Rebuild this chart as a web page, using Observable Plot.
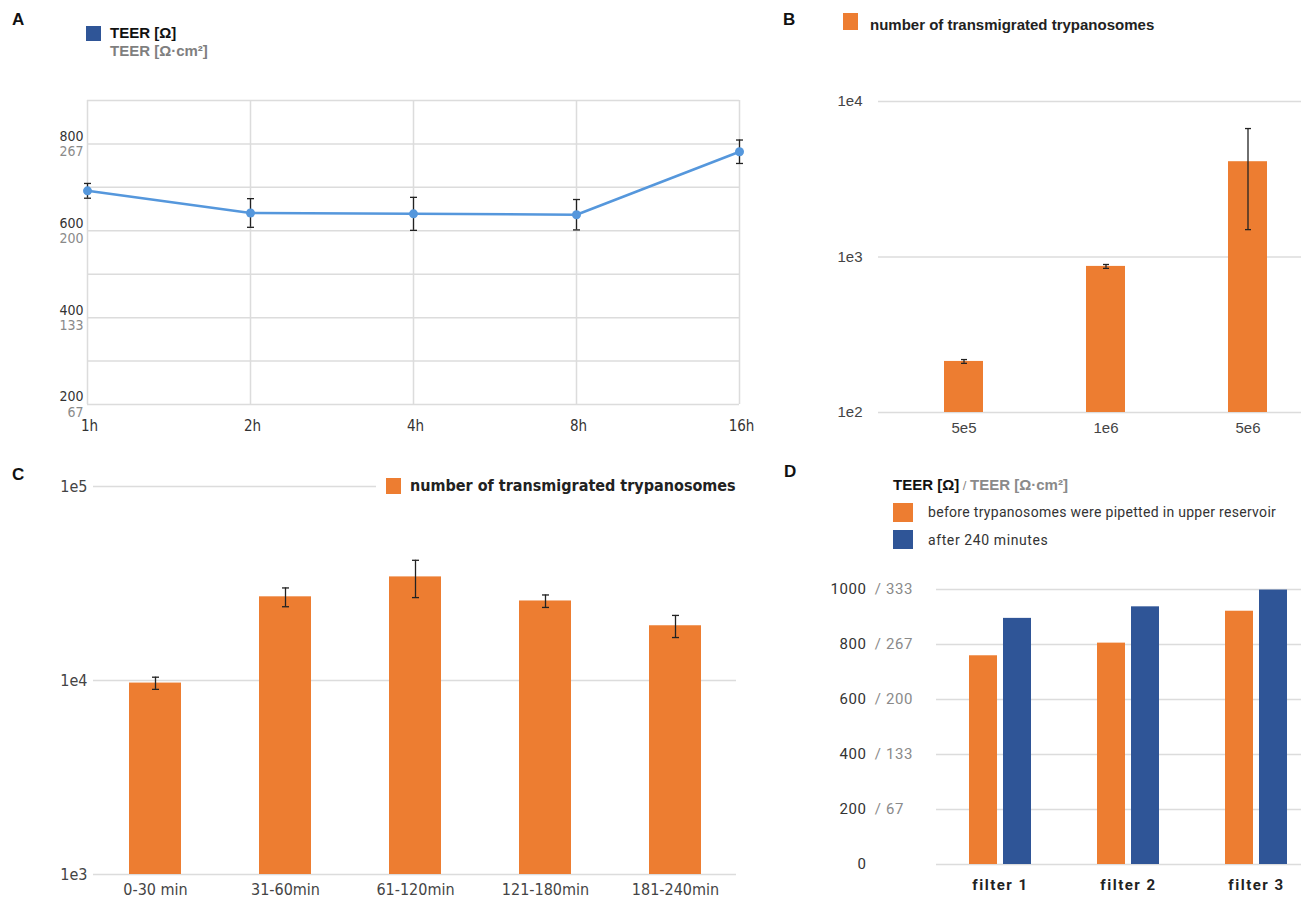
<!DOCTYPE html>
<html>
<head>
<meta charset="utf-8">
<script src="https://cdn.jsdelivr.net/npm/d3@7"></script>
<script src="https://cdn.jsdelivr.net/npm/@observablehq/plot@0.6"></script>
<style>
  html, body { margin: 0; padding: 0; background: #fff; }
  #fig { position: relative; width: 1301px; height: 903px; overflow: hidden; background: #fff;
         font-family: "Liberation Sans", Arial, sans-serif; color: #222; }
  .abs { position: absolute; white-space: nowrap; }
  .letter { font-weight: bold; font-size: 17px; line-height: 20px; color: #111; }
  .sw { position: absolute; }
  .narrow { font-family: "Liberation Sans Narrow", "DejaVu Sans Condensed", "Roboto", sans-serif; font-stretch: condensed; }
  .d-panel g[aria-label="fx-axis tick label"] text { letter-spacing: 1.5px; }
  .d-panel g[aria-label="y-axis tick label"] text { letter-spacing: 0.6px; }
</style>
</head>
<body>
<div id="fig"></div>
<script>
// ---- TEER time course (mean ± SD, Ω) ----
const timepoints = ["1h", "2h", "4h", "8h", "16h"];
const teerMean = [692, 641, 639, 637, 782];
const teerSd = [17, 33, 38, 35, 27];

// ---- transmigration vs. inoculum ----
const inocula = ["5e5", "1e6", "5e6"];
const inoculumCounts = [213, 870, 4100];
const inoculumSd = [6, 25, 2600];

// ---- transmigration per time interval ----
const intervals = ["0-30 min", "31-60min", "61-120min", "121-180min", "181-240min"];
const intervalCounts = [9700, 27000, 34200, 25700, 19150];
const intervalSd = [700, 3000, 7450, 1900, 2500];

// ---- TEER per filter before / after the assay (Ω) ----
const filters = ["filter 1", "filter 2", "filter 3"];
const teerBefore = [759, 805, 921];
const teerAfter = [895, 937, 998];

// filter area in cm², converts Ω to Ω·cm²
const membraneArea = 1 / 3;

const orange = "#ed7d31";
const navy = "#2f5597";
const lineBlue = "#5597dc";
const gridGrey = "#dcdcdc";
const narrowFont = '"Liberation Sans Narrow", "DejaVu Sans Condensed", Roboto, sans-serif';

// horizontal whisker cap used for error bars
const capSymbol = {
  draw(ctx, size) {
    const r = Math.sqrt(size / Math.PI);
    ctx.moveTo(-r, 0);
    ctx.lineTo(r, 0);
  }
};

const fig = document.getElementById("fig");
function place(el, left, top, cls) {
  el.style.position = "absolute";
  el.style.left = left + "px";
  el.style.top = top + "px";
  if (cls) el.classList.add(cls);
  fig.appendChild(el);
}
function html(str, left, top) {
  const d = document.createElement("div");
  d.className = "abs";
  d.innerHTML = str;
  d.style.left = left + "px";
  d.style.top = top + "px";
  fig.appendChild(d);
  return d;
}
function errorMarks(rows, x, capR) {
  return [
    Plot.ruleX(rows, {x, y1: "lo", y2: "hi", stroke: "#222", strokeWidth: 1.3}),
    Plot.dot(rows, {x, y: "lo", symbol: capSymbol, r: capR, stroke: "#222", strokeWidth: 1.3}),
    Plot.dot(rows, {x, y: "hi", symbol: capSymbol, r: capR, stroke: "#222", strokeWidth: 1.3})
  ];
}

// ===== A: TEER over time =====
const teerRows = timepoints.map((t, i) => ({t, v: teerMean[i], lo: teerMean[i] - teerSd[i], hi: teerMean[i] + teerSd[i]}));
const teerTicks = [200, 400, 600, 800];
const plotA = Plot.plot({
  width: 780, height: 370,
  marginLeft: 87, marginRight: 41, marginTop: 20, marginBottom: 46,
  style: {fontFamily: narrowFont, fontSize: "15px", background: "transparent", overflow: "visible"},
  x: {type: "point", domain: timepoints, padding: 0, axis: null},
  y: {domain: [200, 900], axis: null},
  marks: [
    Plot.ruleY(d3.range(200, 901, 100), {stroke: gridGrey, strokeWidth: 1.5}),
    Plot.ruleX(timepoints, {x: d => d, stroke: gridGrey, strokeWidth: 1.5}),
    Plot.text(teerTicks, {y: d => d, text: d => String(d), frameAnchor: "left", textAnchor: "end", dx: -4, dy: -7.5, fontSize: 14, fill: "#333"}),
    Plot.text(teerTicks, {y: d => d, text: d => String(Math.round(d * membraneArea)), frameAnchor: "left", textAnchor: "end", dx: -4, dy: 8, fontSize: 14, fill: "#8a8a8a"}),
    Plot.text(timepoints, {x: d => d, text: d => d, frameAnchor: "bottom", dx: 2, dy: 26, fill: "#333"}),
    ...errorMarks(teerRows, "t", 3.5),
    Plot.line(teerRows, {x: "t", y: "v", stroke: lineBlue, strokeWidth: 2.5}),
    Plot.dot(teerRows, {x: "t", y: "v", r: 4.5, fill: lineBlue})
  ]
});
place(plotA, 0, 80);

// ===== B: transmigrated parasites vs. inoculum =====
const rowsB = inocula.map((c, i) => ({c, v: inoculumCounts[i], lo: inoculumCounts[i] - inoculumSd[i], hi: inoculumCounts[i] + inoculumSd[i]}));
const decadesB = [100, 1000, 10000];
const plotB = Plot.plot({
  width: 521, height: 450,
  marginLeft: 98, marginRight: 0, marginTop: 101, marginBottom: 38,
  style: {fontFamily: '"Liberation Sans", Arial, sans-serif', fontSize: "15px", background: "transparent", overflow: "visible"},
  x: {type: "band", domain: inocula, paddingInner: 0.726, paddingOuter: 0.347, align: 0.66, axis: null},
  y: {type: "log", domain: [100, 10000], axis: null},
  marks: [
    Plot.ruleY(decadesB, {stroke: gridGrey, strokeWidth: 1.5}),
    Plot.barY(rowsB, {x: "c", y1: 100, y2: "v", fill: orange}),
    ...errorMarks(rowsB, "c", 3),
    Plot.text(decadesB, {y: d => d, text: d => "1e" + Math.round(Math.log10(d)), frameAnchor: "left", textAnchor: "end", dx: -16, fill: "#444"}),
    Plot.text(inocula, {x: d => d, text: d => d, frameAnchor: "bottom", dy: 20, fill: "#444"})
  ]
});
place(plotB, 780, 0);

// ===== C: transmigrated parasites per interval =====
const rowsC = intervals.map((c, i) => ({c, v: intervalCounts[i], lo: intervalCounts[i] - intervalSd[i], hi: intervalCounts[i] + intervalSd[i]}));
const decadesC = [1000, 10000, 100000];
const plotC = Plot.plot({
  width: 780, height: 453,
  marginLeft: 93, marginRight: 44, marginTop: 36, marginBottom: 29,
  style: {fontFamily: narrowFont, fontSize: "16px", background: "transparent", overflow: "visible"},
  x: {type: "band", domain: intervals, paddingInner: 0.6, paddingOuter: 0.273, axis: null},
  y: {type: "log", domain: [1000, 100000], axis: null},
  marks: [
    Plot.ruleY(decadesC, {stroke: gridGrey, strokeWidth: 1.5}),
    Plot.barY(rowsC, {x: "c", y1: 1000, y2: "v", fill: orange}),
    ...errorMarks(rowsC, "c", 3.5),
    Plot.text(decadesC, {y: d => d, text: d => "1e" + Math.round(Math.log10(d)), frameAnchor: "left", textAnchor: "end", dx: -6, fill: "#444"}),
    Plot.text(intervals, {x: d => d, text: d => d, frameAnchor: "bottom", dy: 20, fill: "#444"})
  ]
});
place(plotC, 0, 450);

// ===== D: TEER per filter, before and after =====
const phases = ["before", "after"];
const rowsD = filters.flatMap((f, i) => [
  {f, s: "before", v: teerBefore[i]},
  {f, s: "after", v: teerAfter[i]}
]);
const teerTicksD = d3.range(0, 1001, 200);
const plotD = Plot.plot({
  width: 540, height: 453,
  marginLeft: 155, marginRight: 0, marginTop: 139, marginBottom: 39,
  className: "d-panel",
  style: {fontFamily: 'Roboto, "Liberation Sans", sans-serif', fontSize: "15px", background: "transparent", overflow: "visible"},
  fx: {domain: filters, paddingInner: 0, paddingOuter: 0, axis: null, label: null},
  x: {domain: phases, paddingInner: 0.17, paddingOuter: 0.918, axis: null},
  y: {domain: [0, 1000], axis: null, label: null},
  color: {domain: phases, range: [orange, navy]},
  marks: [
    Plot.ruleY(teerTicksD, {stroke: gridGrey, strokeWidth: 1.5}),
    Plot.barY(rowsD, {fx: "f", x: "s", y: "v", fill: "s"}),
    Plot.axisY({ticks: teerTicksD, tickSize: 0, label: null, tickFormat: d => String(d), textAnchor: "end", dx: -61, fill: "#333"}),
    Plot.axisY({ticks: teerTicksD, tickSize: 0, label: null, tickFormat: d => d ? " / " + Math.round(d * membraneArea) : "", textAnchor: "start", dx: -57, fill: "#8a8a8a"}),
    Plot.axisFx({anchor: "bottom", tickSize: 0, tickPadding: 15, label: null, fontWeight: "bold", fontSize: 15, fill: "#222"})
  ]
});
place(plotD, 780, 450);

// ===== legends and panel letters =====
html('<span class="letter">A</span>', 12, 10);
html('<span class="letter">B</span>', 783, 10);
html('<span class="letter">C</span>', 12, 465);
html('<span class="letter">D</span>', 784, 462);

// A legend
html(`<div class="sw" style="left:0;top:0;width:15px;height:15px;background:${navy}"></div>`, 86, 26);
html('<span style="font-weight:bold;font-size:15px;line-height:18px;color:#111">TEER [Ω]</span>', 110, 24);
html('<span style="font-weight:bold;font-size:15px;line-height:18px;color:#7f7f7f">TEER [Ω·cm²]</span>', 110, 42);

// B legend
html(`<div class="sw" style="left:0;top:0;width:15px;height:17px;background:${orange}"></div>`, 843, 13);
html('<span style="font-weight:bold;font-size:15px;line-height:18px;color:#222">number of transmigrated trypanosomes</span>', 870, 16);

// C legend (white box sits on top of the 1e5 gridline)
const legC = html(`<div class="sw" style="left:10px;top:4px;width:15px;height:16px;background:${orange}"></div>` +
  '<span class="narrow" style="position:absolute;left:34px;top:3px;font-weight:bold;font-size:16px;line-height:18px;color:#222">number of transmigrated trypanosomes</span>', 376, 474);
legC.style.width = "365px"; legC.style.height = "24px"; legC.style.background = "#fff";

// D legend
html('<span style="font-weight:bold;font-size:15px;line-height:18px;color:#111">TEER [Ω]</span>' +
  '<span style="font-size:13px;color:#8a8a8a"> / </span>' +
  '<span style="font-weight:bold;font-size:15px;line-height:18px;color:#8a8a8a">TEER [Ω·cm²]</span>', 893, 476);
html(`<div class="sw" style="left:0;top:0;width:20px;height:19px;background:${orange}"></div>`, 893, 503);
html('<span style="font-family:Roboto,sans-serif;font-size:14px;line-height:18px;letter-spacing:0.3px;color:#333">before trypanosomes were pipetted in upper reservoir</span>', 928, 503);
html(`<div class="sw" style="left:0;top:0;width:20px;height:19px;background:${navy}"></div>`, 893, 530);
html('<span style="font-family:Roboto,sans-serif;font-size:14px;line-height:18px;letter-spacing:0.6px;color:#333">after 240 minutes</span>', 928, 531);
</script>
</body>
</html>
